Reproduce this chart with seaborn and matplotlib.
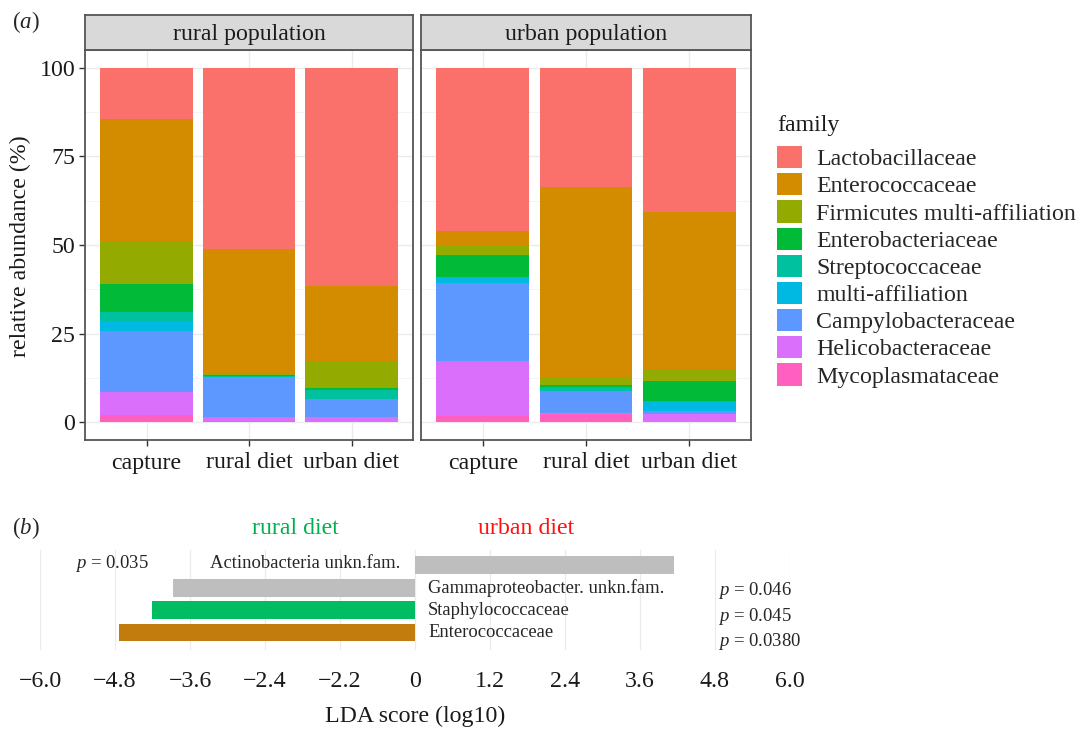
import numpy as np
import matplotlib
matplotlib.use("Agg")
import matplotlib.pyplot as plt
from matplotlib.patches import Patch
import seaborn as sns

# ---- (a) relative abundance per family, diet group and population ----
families = ["Lactobacillaceae", "Enterococcaceae", "Firmicutes multi-affiliation",
            "Enterobacteriaceae", "Streptococcaceae", "multi-affiliation",
            "Campylobacteraceae", "Helicobacteraceae", "Mycoplasmataceae"]
family_colors = ["#F9716A", "#D38B00", "#93AA00", "#00BA38", "#00C19F",
                 "#00B9E3", "#5C98FF", "#D96FFB", "#FF5FC0"]
diets = ["capture", "rural diet", "urban diet"]
populations = ["rural population", "urban population"]

# one row per family (same order as `families`), one column per diet
rural_pop = [
    [14.4, 51.2, 61.5],
    [34.8, 35.1, 21.5],
    [11.9, 0.3, 7.4],
    [7.8, 0.4, 0.6],
    [2.6, 0.3, 2.4],
    [2.7, 0.0, 0.0],
    [17.3, 11.1, 5.0],
    [6.4, 1.3, 1.4],
    [2.1, 0.3, 0.2],
]
urban_pop = [
    [46.0, 33.5, 40.6],
    [4.3, 53.9, 44.6],
    [2.5, 2.0, 3.2],
    [6.2, 0.7, 5.5],
    [0.0, 1.1, 0.3],
    [1.6, 0.0, 2.5],
    [22.2, 6.1, 0.9],
    [15.3, 0.4, 2.2],
    [1.9, 2.3, 0.2],
]
abundance_ticks = [0, 25, 50, 75, 100]

# ---- (b) LEfSe LDA scores ----
taxa = ["Actinobacteria unkn.fam.", "Gammaproteobacter. unkn.fam.",
        "Staphylococcaceae", "Enterococcaceae"]
lda_scores = [4.14, -3.88, -4.21, -4.73]
taxa_colors = ["#BEBEBE", "#BEBEBE", "#00BD63", "#C27C0E"]
p_labels = ["0.035", "0.046", "0.045", "0.0380"]
lda_ticks = [-6.0, -4.8, -3.6, -2.4, -1.2, 0, 1.2, 2.4, 3.6, 4.8, 6.0]
lda_tick_labels = ["\u22126.0", "\u22124.8", "\u22123.6", "\u22122.4", "\u22122.2",
                   "0", "1.2", "2.4", "3.6", "4.8", "6.0"]

sns.set_theme(style="white")
plt.rcParams["font.family"] = ["Liberation Serif", "DejaVu Serif"]
plt.rcParams["mathtext.fontset"] = "custom"
plt.rcParams["mathtext.rm"] = "Liberation Serif"
plt.rcParams["mathtext.it"] = "Liberation Serif:italic"

W, H = 1081, 731
fig = plt.figure(figsize=(W / 100, H / 100), dpi=100)
fig.patch.set_facecolor("white")


def fx(px):
    return px / W


def fy(py):
    return 1 - py / H


FS = 17.2
frame_col = "#555555"

facet_x = [(85, 413), (421, 751)]
panel_top, panel_bot = 50, 440
strip_top = 15

for k, (pop, data) in enumerate(zip(populations, [rural_pop, urban_pop])):
    x0, x1 = facet_x[k]
    ax = fig.add_axes([fx(x0), fy(panel_bot), fx(x1 - x0), (panel_bot - panel_top) / H])
    bottoms = np.zeros(len(diets))
    # stack from the last family (bottom) up to the first (top)
    for fam_idx in range(len(families) - 1, -1, -1):
        vals = np.array(data[fam_idx], dtype=float)
        sns.barplot(x=diets, y=vals, bottom=bottoms, color=family_colors[fam_idx],
                    width=0.9, errorbar=None, saturation=1, ax=ax,
                    linewidth=0, zorder=3)
        bottoms = bottoms + vals
    ax.set_xlim(-0.6, 2.6)
    ax.set_ylim(-5, 105)
    ax.set_yticks(abundance_ticks)
    ax.set_yticks([12.5, 37.5, 62.5, 87.5], minor=True)
    ax.grid(True, which="major", color="#EBEBEB", lw=1.0, zorder=0)
    ax.grid(True, which="minor", axis="y", color="#F2F2F2", lw=0.6, zorder=0)
    ax.set_axisbelow(True)
    ax.set_xlabel("")
    ax.set_ylabel("")
    for s in ax.spines.values():
        s.set_color(frame_col)
        s.set_linewidth(1.3)
    ax.tick_params(axis="x", which="major", length=4, width=1, color="#333333",
                   labelsize=FS, pad=5, bottom=True)
    if k == 0:
        ax.tick_params(axis="y", which="major", length=4, width=1, color="#333333",
                       labelsize=FS, pad=3, left=True)
        ax.tick_params(axis="y", which="minor", length=0)
    else:
        ax.tick_params(axis="y", which="both", length=0, labelleft=False)
    for t in ax.get_xticklabels() + ax.get_yticklabels():
        t.set_color("#1A1A1A")

    # facet strip
    sax = fig.add_axes([fx(x0), fy(panel_top), fx(x1 - x0), (panel_top - strip_top) / H])
    sax.set_facecolor("#D9D9D9")
    sax.set_xticks([])
    sax.set_yticks([])
    for s in sax.spines.values():
        s.set_color(frame_col)
        s.set_linewidth(1.3)
    sax.text(0.5, 0.45, pop, ha="center", va="center", fontsize=FS, color="#1A1A1A",
             transform=sax.transAxes)

fig.text(fx(20), fy(246), "relative abundance (%)", rotation=90, ha="center",
         va="center", fontsize=FS, color="#1A1A1A")
fig.text(fx(12), fy(22), "($a$)", ha="left", va="center", fontsize=16.5)

# legend
fig.text(fx(777), fy(125), "family", ha="left", va="center", fontsize=FS,
         color="#1A1A1A")
handles = [Patch(facecolor=c, edgecolor="none") for c in family_colors]
leg = fig.legend(handles, families, loc="upper left",
                 bbox_to_anchor=(fx(777), fy(146)), frameon=False,
                 fontsize=FS, handlelength=1.06, handleheight=1.06,
                 handletextpad=0.58, labelspacing=0.12,
                 borderaxespad=0, borderpad=0)

# ---- (b) ----
bx = fig.add_axes([fx(40), fy(650), fx(750), 100 / H])
sns.barplot(x=lda_scores, y=taxa, hue=taxa, palette=taxa_colors, orient="h",
            width=0.8, errorbar=None, saturation=1, legend=False, ax=bx,
            linewidth=0, zorder=3)
bx.set_xlim(-6, 6)
bx.set_ylim(3.78, -0.69)
bx.set_xticks(lda_ticks)
bx.set_xticklabels(lda_tick_labels)
bx.set_yticks([])
bx.set_ylabel("")
bx.grid(True, axis="x", color="#EBEBEB", lw=0.9, zorder=0)
bx.set_axisbelow(True)
for s in bx.spines.values():
    s.set_visible(False)
bx.tick_params(axis="x", length=0, labelsize=FS, pad=15, colors="#1A1A1A")
bx.set_xlabel("LDA score (log10)", fontsize=FS, labelpad=10, color="#1A1A1A")

# taxon names beside the bars
name_fs = 13.4
bx.text(-0.24, -0.1, taxa[0], ha="right", va="center", fontsize=name_fs)
for i in range(1, len(taxa)):
    bx.text(0.21, i, taxa[i], ha="left", va="center", fontsize=name_fs)

# p-values
p_pos = [(-5.44, -0.07), (4.85, 1.1), (4.85, 2.3), (4.85, 3.38)]
for (px, py), lab in zip(p_pos, p_labels):
    bx.text(px, py, "$p$ = " + lab, ha="left", va="center", fontsize=13.5,
            clip_on=False)

fig.text(fx(12), fy(528), "($b$)", ha="left", va="center", fontsize=16.5)
fig.text(fx(295), fy(528), "rural diet", ha="center", va="center",
         fontsize=FS, color="#00B050")
fig.text(fx(526), fy(528), "urban diet", ha="center", va="center",
         fontsize=FS, color="#FF1010")

fig.savefig("out.png", dpi=100, facecolor="white")
